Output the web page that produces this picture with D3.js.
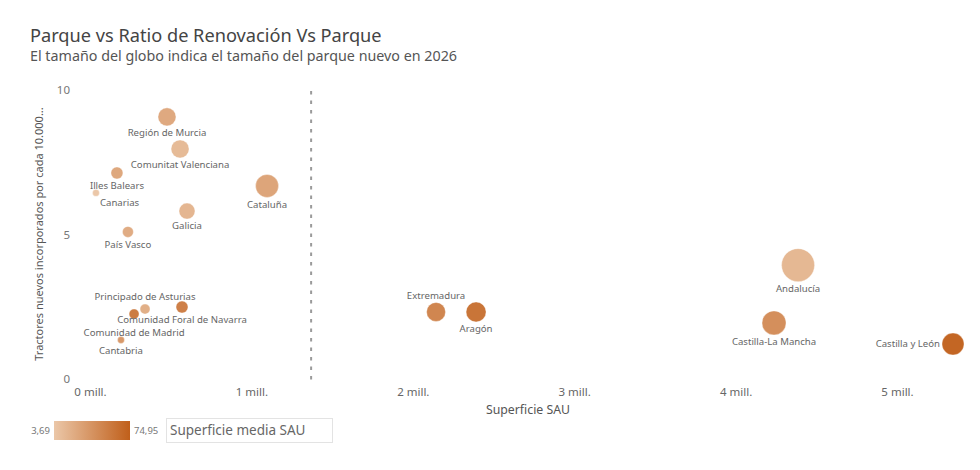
<!DOCTYPE html>
<html>
<head>
<meta charset="utf-8">
<script src="https://cdn.jsdelivr.net/npm/d3@7/dist/d3.min.js"></script>
<style>
  html, body { margin: 0; padding: 0; background: #fff; }
  svg { display: block; font-family: "Noto Sans", "DejaVu Sans", sans-serif; }
</style>
</head>
<body>
<svg id="chart" width="980" height="470"></svg>
<script>
// ---- Data ----
const regions = ["Región de Murcia","Comunitat Valenciana","Illes Balears","Canarias","Cataluña","Galicia","País Vasco",
  "Principado de Asturias","Comunidad de Madrid","Comunidad Foral de Navarra","Cantabria",
  "Extremadura","Aragón","Andalucía","Castilla-La Mancha","Castilla y León"];
// Superficie SAU (millones ha)
const superficieSAU = [0.477,0.558,0.167,0.037,1.097,0.601,0.235,0.341,0.273,0.570,0.192,2.144,2.392,4.387,4.238,5.347];
// Tractores nuevos incorporados por cada 10.000 ...
const ratioRenovacion = [9.07,7.96,7.13,6.44,6.68,5.81,5.09,2.42,2.25,2.49,1.35,2.32,2.32,3.94,1.94,1.21];
// Parque nuevo 2026 (tamaño del globo)
const parqueNuevo = [810,810,360,120,1320,640,300,250,250,360,120,900,1000,2720,1440,1210];
// Superficie media SAU (color)
const superficieMedia = [24,12,25,3.69,27,15,22,20,55,52,35,48,60,14,42,70];
const colorDomain = [3.69, 74.95];
const xTicks = [0,1,2,3,4,5];
const yTicks = [0,5,10];
const mediaLinea = 1.37;

// label placement (style)
const labelPlace = {
  "Principado de Asturias":"above", "Extremadura":"above", "Castilla y León":"left",
  "Canarias":"belowright", "Comunidad de Madrid":"belowfar"
};

const svg = d3.select("#chart");

// title
svg.append("text").attr("x",30).attr("y",42).attr("font-size",18.2).attr("fill","#444")
  .text("Parque vs Ratio de Renovación Vs Parque");
svg.append("text").attr("x",30).attr("y",61).attr("font-size",14.3).attr("fill","#555")
  .text("El tamaño del globo indica el tamaño del parque nuevo en 2026");

const x = d3.scaleLinear().domain([0,5.4]).range([90, 90 + 5.4*161.4]);
const y = d3.scaleLinear().domain([0,10]).range([379, 90]);
const r = d3.scaleSqrt().domain([0, d3.max(parqueNuevo)]).range([0, 16.5]);
const color = d3.scaleLinear().domain(colorDomain).range(["#ebc7a8", "#c05f1a"]);

// axes
const xAxis = d3.axisBottom(x).tickValues(xTicks).tickSize(0).tickPadding(0)
  .tickFormat(d => d + " mill.");
const gx = svg.append("g").attr("transform","translate(0,388)").call(xAxis);
gx.select(".domain").remove();
gx.selectAll("text").attr("font-size",11.5).attr("fill","#666").attr("font-family","Noto Sans, sans-serif");

const yAxis = d3.axisLeft(y).tickValues(yTicks).tickSize(0).tickPadding(0);
const gy = svg.append("g").attr("transform","translate(70,0)").call(yAxis);
gy.select(".domain").remove();
gy.selectAll("text").attr("font-size",11.5).attr("fill","#777").attr("font-family","Noto Sans, sans-serif");

svg.append("text").attr("x", 528).attr("y", 414).attr("text-anchor","middle")
  .attr("font-size",12.3).attr("fill","#555").text("Superficie SAU");
svg.append("text").attr("transform","translate(43,234) rotate(-90)").attr("text-anchor","middle")
  .attr("font-size",11).attr("fill","#555").text("Tractores nuevos incorporados por cada 10.000...");

// dashed reference line
svg.append("line").attr("x1", x(mediaLinea)).attr("x2", x(mediaLinea))
  .attr("y1", 91).attr("y2", 380)
  .attr("stroke","#9a9a9a").attr("stroke-width",2).attr("stroke-dasharray","3.5,6");

const data = regions.map((n,i) => ({
  name:n, sx:superficieSAU[i], ry:ratioRenovacion[i], size:parqueNuevo[i], media:superficieMedia[i]
}));

svg.append("g").selectAll("circle").data(data).join("circle")
  .attr("cx", d => x(d.sx)).attr("cy", d => y(d.ry)).attr("r", d => r(d.size))
  .attr("fill", d => color(d.media))
  .attr("stroke", "#fff").attr("stroke-opacity",0.35).attr("stroke-width",1);

const lg = svg.append("g").attr("font-size",9.6).attr("fill","#666");
data.forEach(d => {
  const cx = x(d.sx), cy = y(d.ry), rr = r(d.size);
  const p = labelPlace[d.name] || "below";
  let tx = cx, ty, anchor = "middle";
  if (p === "below") ty = cy + rr + 7;
  else if (p === "above") ty = cy - rr - 7;
  else if (p === "belowfar") ty = cy + rr + 14;
  else if (p === "belowright") { tx = cx + 4; ty = cy + 10; anchor = "start"; }
  else if (p === "left") { tx = cx - rr - 2; ty = cy; anchor = "end"; }
  lg.append("text").attr("x", tx).attr("y", ty).attr("dy","0.35em")
    .attr("text-anchor", anchor).text(d.name);
});

// legend
const defs = svg.append("defs");
const grad = defs.append("linearGradient").attr("id","lg1");
grad.append("stop").attr("offset","0%").attr("stop-color", color(colorDomain[0]));
grad.append("stop").attr("offset","100%").attr("stop-color", color(colorDomain[1]));
svg.append("text").attr("x",50).attr("y",434).attr("text-anchor","end").attr("font-size",9.5).attr("fill","#777")
  .text(d3.format(".2f")(colorDomain[0]).replace(".",","));
svg.append("rect").attr("x",54).attr("y",421).attr("width",76).attr("height",19).attr("fill","url(#lg1)");
svg.append("text").attr("x",134).attr("y",434).attr("font-size",9.5).attr("fill","#777")
  .text(d3.format(".2f")(colorDomain[1]).replace(".",","));
svg.append("rect").attr("x",166.5).attr("y",418.5).attr("width",166).attr("height",24)
  .attr("fill","#fff").attr("stroke","#e3e3e3");
svg.append("text").attr("x",170).attr("y",435).attr("font-size",13.5).attr("fill","#666")
  .text("Superficie media SAU");
</script>
</body>
</html>
